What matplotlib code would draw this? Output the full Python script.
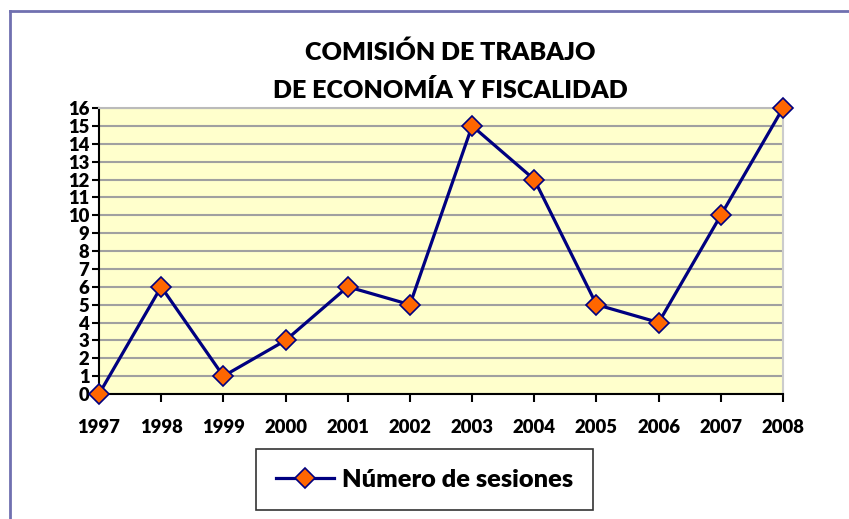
import matplotlib.pyplot as plt
from matplotlib.lines import Line2D

years = ['1997', '1998', '1999', '2000', '2001', '2002',
         '2003', '2004', '2005', '2006', '2007', '2008']
sesiones = [0, 6, 1, 3, 6, 5, 15, 12, 5, 4, 10, 16]
yticks = list(range(0, 17))

plt.rcParams['font.family'] = ['Lato', 'DejaVu Sans']
plt.rcParams['font.weight'] = 'heavy'

fig = plt.figure(figsize=(8.49, 5.19), dpi=100)
ax = fig.add_axes([0.1166, 0.2408, 0.8057, 0.5511])

x = list(range(len(years)))
ax.plot(x, sesiones, color='#000080', lw=2.3, marker='D', markersize=10,
        markerfacecolor='#FF6600', markeredgecolor='#000080', markeredgewidth=1.2,
        label='Número de sesiones', clip_on=False, zorder=5)

ax.set_facecolor('#FFFFCC')
ax.set_xlim(0, len(years) - 1)
ax.set_ylim(0, 16)
ax.set_yticks(yticks)
ax.set_xticks(x)
ax.set_xticklabels(years)
ax.grid(axis='y', color='#A0A0A0', lw=1.5)
ax.set_axisbelow(True)
ax.tick_params(axis='both', labelsize=13.3, width=1.5, color='black')
ax.tick_params(axis='x', length=6, pad=12)
ax.tick_params(axis='y', length=5, pad=2)
for lab in ax.get_xticklabels() + ax.get_yticklabels():
    lab.set_fontweight('heavy')

ax.spines['left'].set_color('black')
ax.spines['left'].set_linewidth(1.5)
ax.spines['bottom'].set_color('black')
ax.spines['bottom'].set_linewidth(1.5)
ax.spines['top'].set_color('#BBBBBB')
ax.spines['top'].set_linewidth(1.5)
ax.spines['right'].set_color('#CCCCCC')
ax.spines['right'].set_linewidth(1.5)

fig.text(0.53, 0.900, 'COMISIÓN DE TRABAJO', ha='center', va='center',
         fontsize=18, fontweight='heavy')
fig.text(0.53, 0.826, 'DE ECONOMÍA Y FISCALIDAD', ha='center', va='center',
         fontsize=18, fontweight='heavy')

leg = fig.legend(loc='center', bbox_to_anchor=(0.5, 0.076), fontsize=18.3,
                 frameon=True, fancybox=False, handlelength=2.3,
                 handletextpad=0.3, borderpad=0.78, edgecolor='black')
leg.get_frame().set_linewidth(1.2)
for t in leg.get_texts():
    t.set_fontweight('heavy')

# chart border
fig.add_artist(Line2D([0.0118, 0.0118], [0.0, 0.979], color='#7070B0', lw=2,
                      transform=fig.transFigure))
fig.add_artist(Line2D([0.0118, 1.0], [0.979, 0.979], color='#7070B0', lw=2,
                      transform=fig.transFigure))

fig.savefig('out.png', dpi=100)
